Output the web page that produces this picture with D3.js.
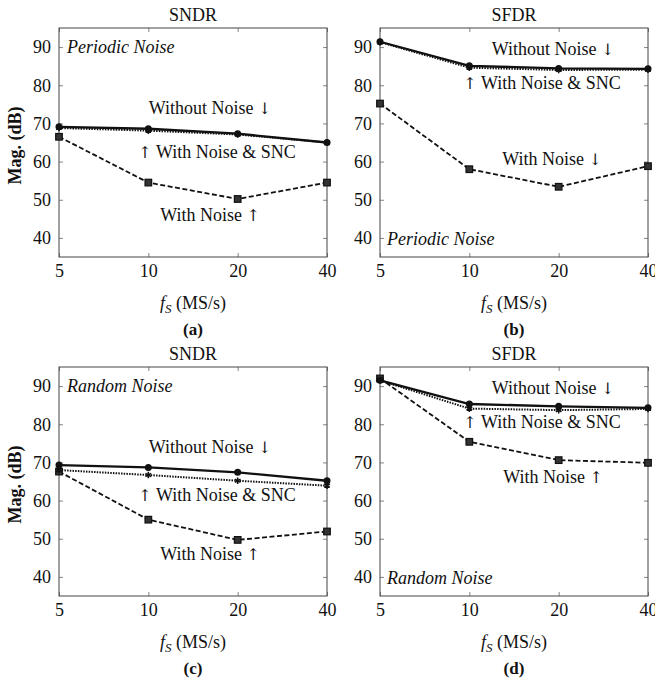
<!DOCTYPE html>
<html>
<head>
<meta charset="utf-8">
<script src="https://cdn.jsdelivr.net/npm/d3@7"></script>
<style>
  html, body { margin: 0; padding: 0; background: #fff; }
</style>
</head>
<body>
<svg id="chart" width="655" height="679"></svg>
<script>
// Sampling rates (MS/s)
const rates = [5, 10, 20, 40];
const yTicks = [40, 50, 60, 70, 80, 90];

// (a) SNDR, periodic noise
const sndrPeriodicClean = [69.1, 68.6, 67.3, 65.0];
const sndrPeriodicSNC   = [68.8, 68.1, 67.1, 65.0];
const sndrPeriodicNoisy = [66.5, 54.5, 50.2, 54.5];
// (b) SFDR, periodic noise
const sfdrPeriodicClean = [91.4, 85.1, 84.4, 84.3];
const sfdrPeriodicSNC   = [91.3, 84.6, 84.0, 84.1];
const sfdrPeriodicNoisy = [75.2, 58.0, 53.4, 58.8];
// (c) SNDR, random noise
const sndrRandomClean = [69.3, 68.7, 67.4, 65.2];
const sndrRandomSNC   = [68.0, 66.7, 65.2, 63.9];
const sndrRandomNoisy = [67.6, 55.0, 49.7, 51.9];
// (d) SFDR, random noise
const sfdrRandomClean = [91.5, 85.3, 84.7, 84.3];
const sfdrRandomSNC   = [91.5, 84.1, 83.7, 84.0];
const sfdrRandomNoisy = [92.0, 75.4, 70.6, 69.9];

const SERIF = '"Liberation Serif", "Times New Roman", serif';
const ARROW_FONT = '"DejaVu Serif", "Liberation Serif", serif';

const panels = [
  { title: "SNDR", tag: "(a)", noise: "Periodic Noise", clean: sndrPeriodicClean, snc: sndrPeriodicSNC, noisy: sndrPeriodicNoisy,
    left: 59, top: 28, showY: true,
    notes: [
      { pre: "", t: "Without Noise ", post: "\u2193", x: 210, y: 108 },
      { pre: "\u2191", t: " With Noise & SNC", post: "", x: 217, y: 152 },
      { pre: "", t: "With Noise ", post: "\u2191", x: 210, y: 215 }],
    noiseAt: { x: 67, y: 47 } },
  { title: "SFDR", tag: "(b)", noise: "Periodic Noise", clean: sfdrPeriodicClean, snc: sfdrPeriodicSNC, noisy: sfdrPeriodicNoisy,
    left: 380, top: 28, showY: false,
    notes: [
      { pre: "", t: "Without Noise ", post: "\u2193", x: 553, y: 49 },
      { pre: "\u2191", t: " With Noise & SNC", post: "", x: 542, y: 83 },
      { pre: "", t: "With Noise ", post: "\u2193", x: 552, y: 159 }],
    noiseAt: { x: 387, y: 239 } },
  { title: "SNDR", tag: "(c)", noise: "Random Noise", clean: sndrRandomClean, snc: sndrRandomSNC, noisy: sndrRandomNoisy,
    left: 59, top: 367, showY: true,
    notes: [
      { pre: "", t: "Without Noise ", post: "\u2193", x: 210, y: 447 },
      { pre: "\u2191", t: " With Noise & SNC", post: "", x: 217, y: 495 },
      { pre: "", t: "With Noise ", post: "\u2191", x: 210, y: 554 }],
    noiseAt: { x: 67, y: 386 } },
  { title: "SFDR", tag: "(d)", noise: "Random Noise", clean: sfdrRandomClean, snc: sfdrRandomSNC, noisy: sfdrRandomNoisy,
    left: 380, top: 367, showY: false,
    notes: [
      { pre: "", t: "Without Noise ", post: "\u2193", x: 553, y: 388 },
      { pre: "\u2191", t: " With Noise & SNC", post: "", x: 542, y: 422 },
      { pre: "", t: "With Noise ", post: "\u2191", x: 553, y: 477 }],
    noiseAt: { x: 387, y: 578 } }
];

const W = 268, H = 229;
const svg = d3.select("#chart");

panels.forEach(p => {
  const g = svg.append("g").attr("transform", `translate(${p.left},${p.top})`);
  const x = d3.scaleLog().base(2).domain([5, 40]).range([0, W]);
  const y = d3.scaleLinear().domain([35, 95]).range([H, 0]);

  // inward ticks on all four sides
  const tickColor = "#666";
  const axL = g.append("g").call(d3.axisLeft(y).tickValues(yTicks).tickSize(-4).tickPadding(8).tickFormat(d3.format("d")));
  const axR = g.append("g").attr("transform", `translate(${W},0)`).call(d3.axisRight(y).tickValues(yTicks).tickSize(-4).tickFormat(""));
  const axB = g.append("g").attr("transform", `translate(0,${H})`).call(d3.axisBottom(x).tickValues(rates).tickSize(-4).tickPadding(7).tickFormat(d3.format("d")));
  const axT = g.append("g").call(d3.axisTop(x).tickValues(rates).tickSize(-4).tickFormat(""));
  [axL, axR, axB, axT].forEach(a => {
    a.select(".domain").remove();
    a.selectAll(".tick line").attr("stroke", tickColor).attr("stroke-width", 0.8);
    a.selectAll(".tick text").style("font-family", SERIF).style("font-size", "18px").attr("fill", "#111");
  });
  g.append("rect").attr("width", W).attr("height", H).attr("fill", "none").attr("stroke", "#444").attr("stroke-width", 1);

  const line = d3.line().x((d, i) => x(rates[i])).y(d => y(d));

  // with noise: dashed line with square markers
  g.append("path").datum(p.noisy).attr("d", line).attr("fill", "none")
    .attr("stroke", "#111").attr("stroke-width", 1.8).attr("stroke-dasharray", "5,2.5");
  // with noise & SNC: dotted line with star markers
  g.append("path").datum(p.snc).attr("d", line).attr("fill", "none")
    .attr("stroke", "#111").attr("stroke-width", 2).attr("stroke-dasharray", "1.5,1.2");
  // without noise: solid line with circle markers
  g.append("path").datum(p.clean).attr("d", line).attr("fill", "none")
    .attr("stroke", "#111").attr("stroke-width", 2.3);

  g.selectAll(".sq").data(p.noisy).enter().append("rect")
    .attr("x", (d, i) => x(rates[i]) - 3.3).attr("y", d => y(d) - 3.3)
    .attr("width", 6.6).attr("height", 6.6)
    .attr("fill", "#333").attr("stroke", "#111").attr("stroke-width", 1.2);
  g.selectAll(".st").data(p.snc).enter().append("path")
    .attr("transform", (d, i) => `translate(${x(rates[i])},${y(d)})`)
    .attr("d", d3.symbol(d3.symbolAsterisk || d3.symbolCross, 30))
    .attr("fill", "none").attr("stroke", "#111").attr("stroke-width", 1.6);
  g.selectAll(".ci").data(p.clean).enter().append("circle")
    .attr("cx", (d, i) => x(rates[i])).attr("cy", d => y(d)).attr("r", 3.5)
    .attr("fill", "#111");

  // panel title
  g.append("text").attr("x", W / 2).attr("y", -7).attr("text-anchor", "middle")
    .style("font-family", SERIF).style("font-size", "18px").attr("fill", "#111").text(p.title);

  // noise type label
  svg.append("text").attr("x", p.noiseAt.x).attr("y", p.noiseAt.y).attr("dy", "0.35em")
    .style("font-family", SERIF).style("font-size", "18px").style("font-style", "italic")
    .attr("fill", "#111").text(p.noise);

  // curve annotations, arrows point at the curve they name
  p.notes.forEach(n => {
    const t = svg.append("text").attr("x", n.x).attr("y", n.y).attr("dy", "0.35em")
      .attr("text-anchor", "middle").style("font-family", SERIF).style("font-size", "18px")
      .attr("fill", "#111");
    if (n.pre) t.append("tspan").style("font-family", ARROW_FONT).style("font-size", "16px").text(n.pre);
    t.append("tspan").text(n.t);
    if (n.post) t.append("tspan").style("font-family", ARROW_FONT).style("font-size", "16px").text(n.post);
  });

  // x-axis label: f_S (MS/s)
  const xl = g.append("text").attr("x", W / 2).attr("y", H + 46).attr("dy", "0.35em").attr("text-anchor", "middle")
    .style("font-family", SERIF).style("font-size", "18px").attr("fill", "#111");
  xl.append("tspan").style("font-style", "italic").text("f");
  xl.append("tspan").style("font-style", "italic").style("font-size", "13px").attr("dy", 4).text("S");
  xl.append("tspan").attr("dy", -4).text(" (MS/s)");

  // sub-figure tag
  g.append("text").attr("x", W / 2).attr("y", H + 72).attr("dy", "0.35em").attr("text-anchor", "middle")
    .style("font-family", SERIF).style("font-size", "17px").style("font-weight", "bold")
    .attr("fill", "#111").text(p.tag);

  if (p.showY) {
    g.append("text").attr("transform", `translate(-44,${H / 2 + 3}) rotate(-90)`)
      .attr("text-anchor", "middle").attr("dy", "0.35em")
      .style("font-family", SERIF).style("font-size", "18px").style("font-weight", "bold")
      .attr("fill", "#111").text("Mag. (dB)");
  }
});
</script>
</body>
</html>
